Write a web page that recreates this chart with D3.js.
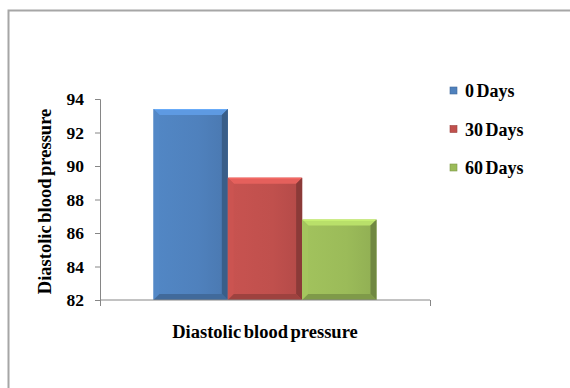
<!DOCTYPE html>
<html>
<head>
<meta charset="utf-8">
<script src="https://cdn.jsdelivr.net/npm/d3@7/dist/d3.min.js"></script>
<style>
  html, body { margin: 0; padding: 0; background: #fff; }
  svg { display: block; }
  text { font-family: "Liberation Serif", "Times New Roman", serif; font-weight: bold; fill: #000; }
</style>
</head>
<body>
<svg id="chart" width="570" height="388"></svg>
<script>
// Diastolic blood pressure at each follow-up point
const categories = ["Diastolic blood pressure"];
const seriesNames = ["0 Days", "30 Days", "60 Days"];
const seriesValues = [93.4, 89.3, 86.8];
const seriesColors = ["#4F81BD", "#C0504D", "#9BBB59"];
const yTicks = [82, 84, 86, 88, 90, 92, 94];
const yTitle = "Diastolic  blood pressure";
const xTitle = "Diastolic blood pressure";

const svg = d3.select("#chart");
const W = 570, H = 388;
const plot = { left: 100, right: 430, top: 99, bottom: 300 };

// outer frame (runs off the right and bottom edges)
svg.append("rect")
  .attr("x", 8.5).attr("y", 10.5)
  .attr("width", W + 20).attr("height", H + 20)
  .attr("fill", "#fff").attr("stroke", "#a6a6a6").attr("stroke-width", 2);

const defs = svg.append("defs");

const x0 = d3.scaleBand().domain(categories)
  .range([plot.left, plot.right]).paddingInner(0).paddingOuter(0.24);
const x1 = d3.scaleBand().domain(seriesNames)
  .range([0, x0.bandwidth()]).padding(0);
const y = d3.scaleLinear().domain([d3.min(yTicks), d3.max(yTicks)])
  .range([plot.bottom, plot.top]);

// gradients for each series body
seriesColors.forEach((c, i) => {
  const base = d3.color(c);
  const g = defs.append("linearGradient").attr("id", "body" + i)
    .attr("x1", 0).attr("x2", 1).attr("y1", 0).attr("y2", 0);
  g.append("stop").attr("offset", "0%").attr("stop-color", base.brighter(0.12));
  g.append("stop").attr("offset", "60%").attr("stop-color", base);
  g.append("stop").attr("offset", "100%").attr("stop-color", base.darker(0.2));
});

const bevel = 6;
const barsG = svg.append("g");

seriesNames.forEach((name, i) => {
  const v = seriesValues[i];
  const bx = x0(categories[0]) + x1(name);
  const bw = x1.bandwidth();
  const by = y(v);
  const bh = y(d3.min(yTicks)) - by;
  const base = d3.color(seriesColors[i]);
  const g = barsG.append("g");
  g.append("rect").attr("x", bx).attr("y", by).attr("width", bw).attr("height", bh)
    .attr("fill", `url(#body${i})`);
  const b = Math.min(bevel, bh / 2);
  const x2 = bx + bw, y2 = by + bh;
  const face = (pts, col) => g.append("polygon")
    .attr("points", pts.map(p => p.join(",")).join(" ")).attr("fill", col);
  face([[bx, by], [x2, by], [x2 - b, by + b], [bx + b, by + b]], base.brighter(0.5));
  face([[bx, by], [bx + b, by + b], [bx + b, y2 - b], [bx, y2]], base.brighter(0.15));
  face([[x2, by], [x2, y2], [x2 - b, y2 - b], [x2 - b, by + b]], base.darker(0.9));
  face([[bx, y2], [x2, y2], [x2 - b, y2 - b], [bx + b, y2 - b]], base.darker(0.55));
  g.append("line").attr("x1", bx + 1).attr("x2", x2 - 1).attr("y1", by + 0.5).attr("y2", by + 0.5)
    .attr("stroke", base.brighter(0.9)).attr("stroke-width", 1).attr("opacity", 0.8);
});

// axes
const axisColor = "#868686";
const yAxis = svg.append("g").attr("transform", `translate(${plot.left},0)`)
  .call(d3.axisLeft(y).tickValues(yTicks).tickSize(5).tickPadding(11).tickFormat(d3.format("d")));
yAxis.selectAll("path, line").attr("stroke", axisColor);
yAxis.selectAll("text").attr("font-size", 17.5).attr("font-family", "Liberation Serif")
  .attr("font-weight", "bold").attr("fill", "#000");

const xAxis = svg.append("g").attr("transform", `translate(0,${plot.bottom})`)
  .call(d3.axisBottom(d3.scaleLinear().domain([0, 1]).range([plot.left, plot.right]))
    .tickValues([0, 1]).tickSize(6).tickFormat(""));
xAxis.select("path").attr("d", `M${plot.left},0H${plot.right}`);
xAxis.selectAll("path, line").attr("stroke", axisColor);

// axis titles
svg.append("text")
  .attr("x", (plot.left + plot.right) / 2).attr("y", 338)
  .attr("text-anchor", "middle").attr("font-size", 18.5).attr("word-spacing", -2)
  .text(xTitle);

svg.append("text")
  .attr("transform", `translate(51,${(plot.top + plot.bottom) / 2 + 2}) rotate(-90)`)
  .attr("text-anchor", "middle").attr("font-size", 18.5).attr("word-spacing", -2)
  .text(yTitle);

// legend
const legend = svg.append("g").attr("transform", "translate(450,0)");
const legendY = d3.scalePoint().domain(seriesNames).range([91, 168]);
seriesNames.forEach((name, i) => {
  const gy = legendY(name);
  const base = d3.color(seriesColors[i]);
  const lg = legend.append("g").attr("transform", `translate(0,${gy})`);
  lg.append("rect").attr("x", 0).attr("y", -4).attr("width", 7).attr("height", 7)
    .attr("fill", base).attr("stroke", base.darker(0.6)).attr("stroke-width", 0.6);
  lg.append("text").attr("x", 15).attr("y", 0).attr("dy", "0.35em")
    .attr("font-size", 18).attr("word-spacing", -2).text(name);
});
</script>
</body>
</html>
